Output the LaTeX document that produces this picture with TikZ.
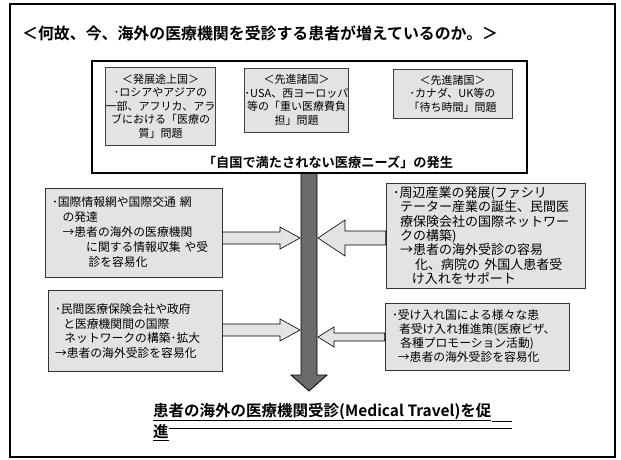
\documentclass[tikz,border=0pt]{standalone}
\usepackage{fontspec}
\setmainfont{Noto Sans CJK JP}[BoldFont={Noto Sans CJK JP Bold}]
\usetikzlibrary{calc}
\tikzset{
  frame/.style={draw=black, line width=1.4pt},
  panel/.style={draw=black, line width=1.1pt},
  subbox/.style={draw=black!75, line width=0.5pt, fill=black!11, align=center,
    font=\fontsize{11}{13.5}\selectfont, inner sep=0pt},
  sidebox/.style={draw=black!80, line width=0.6pt, fill=black!11, align=left,
    inner xsep=7pt, inner ysep=0pt},
  blockarrow/.style={draw=black, line width=0.6pt, fill=black!11, line join=miter},
  mainarrow/.style={draw=black, line width=0.8pt, fill=black!58, line join=miter},
  titletext/.style={font=\bfseries\fontsize{15.9}{18}\selectfont, anchor=west, inner sep=0pt},
  needtext/.style={font=\bfseries\fontsize{13.2}{15}\selectfont, inner sep=0pt},
  resulttext/.style={font=\bfseries\fontsize{15.5}{18}\selectfont, anchor=west, inner sep=0pt},
}
\begin{document}
\begin{tikzpicture}[x=1pt,y=-1pt]
\useasboundingbox (0,0) rectangle (621,460);
\fill[white] (0,0) rectangle (621,460);
% outer frame
\draw[frame] (10,4) rectangle (615,457);
% title
\node[titletext] (title) at (22,33) {＜何故、今、海外の医療機関を受診する患者が増えているのか。＞};
% top panel
\node[panel, minimum width=435pt, minimum height=112pt, inner sep=0pt] (top) at (309.5,117) {};
\node[subbox, minimum width=109pt, minimum height=78pt] (b1) at (160.5,106)
  {＜発展途上国＞\\･ロシアやアジアの\\一部、アフリカ、アラ\\ブにおける「医療の\\質」問題};
\node[subbox, minimum width=97pt, minimum height=64pt] (b2) at (296.5,100)
  {＜先進諸国＞\\･USA、西ヨーロッパ\\等の「重い医療費負\\担」問題};
\node[subbox, minimum width=119pt, minimum height=49pt] (b3) at (452.5,93.5)
  {＜先進諸国＞\\･カナダ、UK等の\\「待ち時間」問題};
\node[needtext] (need) at (328,162) {「自国で満たされない医療ニーズ」の発生};
% side boxes
\node[sidebox, text width=163pt, minimum height=89pt, font=\fontsize{11.8}{15}\selectfont] (L1) at (133.5,232.5)
  {･国際情報網や国際交通 網\\
   \hspace*{0.9em}の発達\\
   \hspace*{0.9em}→患者の海外の医療機関\\
   \hspace*{2.9em}に関する情報収集 や受\\
   \hspace*{3.1em}診を容易化};
\node[sidebox, text width=160pt, minimum height=81pt, font=\fontsize{11.8}{14.5}\selectfont] (L2) at (135,331)
  {･民間医療保険会社や政府\\
   \hspace*{0.7em}と医療機関間の国際\\
   \hspace*{0.8em}ネットワークの構築･拡大\\
   →患者の海外受診を容易化};
\node[sidebox, text width=185pt, minimum height=105pt, font=\fontsize{13}{14.3}\selectfont] (R1) at (485.5,235.5)
  {･周辺産業の発展(ファシリ\\
   \hspace*{0.55em}テーター産業の誕生、民間医\\
   \hspace*{0.55em}療保険会社の国際ネットワー\\
   \hspace*{0.55em}クの構築)\\
   \hspace*{0.55em}→患者の海外受診の容易\\
   \hspace*{1.7em}化、病院の 外国人患者受\\
   \hspace*{1.45em}け入れをサポート};
\node[sidebox, text width=170pt, minimum height=67pt, font=\fontsize{11.8}{14}\selectfont] (R2) at (477,336.5)
  {･受け入れ国による様々な患\\
   \hspace*{0.6em}者受け入れ推進策(医療ビザ、\\
   \hspace*{0.7em}各種プロモーション活動)\\
   \hspace*{0.5em}→患者の海外受診を容易化};
% main downward arrow
\coordinate (mtop) at (top.south -| 309,0);
\coordinate (mtip) at (309,391);
\draw[mainarrow] ($(mtop)+(-8,0)$) -- ($(mtop)+(8,0)$) -- ($(mtip)+(8,-16)$) -- ($(mtip)+(18,-16)$)
  -- (mtip) -- ($(mtip)+(-18,-16)$) -- ($(mtip)+(-8,-16)$) -- cycle;
% block arrows
\coordinate (l1b) at (L1.east |- 0,238);
\coordinate (l1t) at (300,238);
\draw[blockarrow] ($(l1b)+(0,-6)$) -- ($(l1t)+(-20,-6)$) -- ($(l1t)+(-20,-11)$) -- (l1t)
  -- ($(l1t)+(-20,11)$) -- ($(l1t)+(-20,6)$) -- ($(l1b)+(0,6)$) -- cycle;
\coordinate (l2b) at (L2.east |- 0,330);
\coordinate (l2t) at (300,330);
\draw[blockarrow] ($(l2b)+(0,-6)$) -- ($(l2t)+(-20,-6)$) -- ($(l2t)+(-20,-11)$) -- (l2t)
  -- ($(l2t)+(-20,11)$) -- ($(l2t)+(-20,6)$) -- ($(l2b)+(0,6)$) -- cycle;
\coordinate (r1b) at (R1.west |- 0,238);
\coordinate (r1t) at (318,238);
\draw[blockarrow] ($(r1b)+(0,-7)$) -- ($(r1t)+(27,-7)$) -- ($(r1t)+(27,-18)$) -- (r1t)
  -- ($(r1t)+(27,18)$) -- ($(r1t)+(27,7)$) -- ($(r1b)+(0,7)$) -- cycle;
\coordinate (r2b) at (R2.west |- 0,337);
\coordinate (r2t) at (318,337);
\draw[blockarrow] ($(r2b)+(0,-4)$) -- ($(r2t)+(16,-4)$) -- ($(r2t)+(16,-10)$) -- (r2t)
  -- ($(r2t)+(16,10)$) -- ($(r2t)+(16,4)$) -- ($(r2b)+(0,4)$) -- cycle;
% result text
\node[resulttext] (res1) at (153,412) {\underline{患者の海外の医療機関受診(Medical Travel)を促}};
\node[resulttext] (res2) at (153,433) {\underline{進}};
\coordinate (uend1) at (512,0);
\draw[line width=0.6pt] ($(res1.south east)+(0,-0.4)$) -- ($(res1.south -| uend1)+(0,-0.4)$);
\coordinate (uend) at (512,428.5);
\draw[line width=0.6pt] (res2.east |- uend) -- (uend);
\end{tikzpicture}
\end{document}
